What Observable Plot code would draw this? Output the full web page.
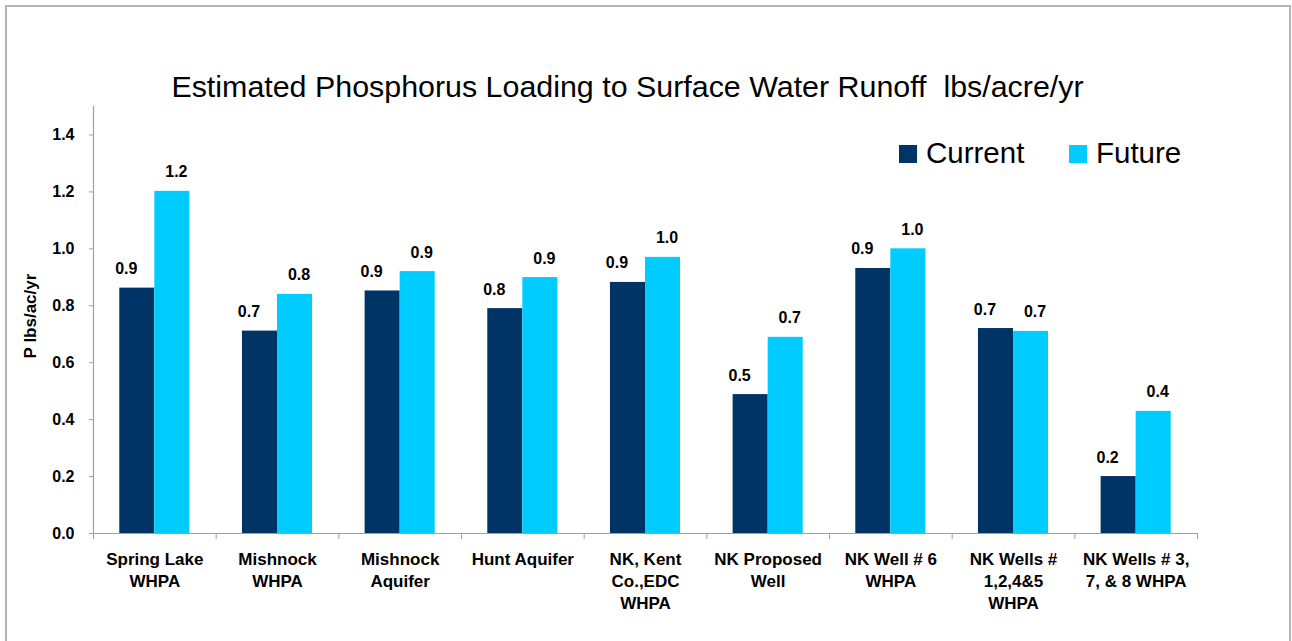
<!DOCTYPE html>
<html>
<head>
<meta charset="utf-8">
<script src="https://cdn.jsdelivr.net/npm/d3@7"></script>
<script src="https://cdn.jsdelivr.net/npm/@observablehq/plot@0.6"></script>
<style>
  html, body { margin: 0; padding: 0; overflow: hidden; background: #fff; }
  body { position: relative; width: 1292px; height: 641px; font-family: "Liberation Sans", Arial, sans-serif; }
  #chart { position: absolute; left: 0; top: 0; }
  #border { position: absolute; left: 5px; top: 5px; width: 1282px; height: 700px; border: 2px solid #b4b4b4; pointer-events: none; z-index: 5; }
  #title { position: absolute; left: 627.5px; top: 71.4px; transform: translateX(-50%); white-space: pre; font-size: 30.4px; line-height: 30.4px; color: #000; z-index: 6; }
  #ylabel { position: absolute; left: 29.6px; top: 315.5px; transform: translate(-50%, -50%) rotate(-90deg); white-space: nowrap; font-size: 17px; line-height: 17px; font-weight: bold; z-index: 6; }
  .lg-sw { position: absolute; width: 18px; height: 18px; top: 145px; z-index: 6; }
  .lg-tx { position: absolute; top: 138.3px; font-size: 29.5px; line-height: 29.5px; white-space: nowrap; z-index: 6; }
</style>
</head>
<body>
<div id="chart"></div>
<div id="border"></div>
<div id="title"></div>
<div id="ylabel"></div>
<script>
// ---- data ----
const titleText = "Estimated Phosphorus Loading to Surface Water Runoff  lbs/acre/yr";
const yLabel = "P lbs/ac/yr";
const categories = [
  "Spring Lake\nWHPA",
  "Mishnock\nWHPA",
  "Mishnock\nAquifer",
  "Hunt Aquifer",
  "NK, Kent\nCo.,EDC\nWHPA",
  "NK Proposed\nWell",
  "NK Well # 6\nWHPA",
  "NK Wells #\n1,2,4&5\nWHPA",
  "NK Wells # 3,\n7, & 8 WHPA"
];
const seriesNames = ["Current", "Future"];
const seriesColors = ["#003366", "#00ccff"];
const currentValues = [0.862, 0.711, 0.852, 0.79, 0.882, 0.488, 0.931, 0.72, 0.2];
const futureValues  = [1.202, 0.84, 0.92, 0.899, 0.97, 0.689, 1.0, 0.71, 0.429];
const yTicks = [0, 0.2, 0.4, 0.6, 0.8, 1.0, 1.2, 1.4];
const yDomain = [0, 1.5];

// ---- table built from the arrays ----
const data = categories.flatMap((c, i) => [
  {category: c, series: seriesNames[0], value: currentValues[i]},
  {category: c, series: seriesNames[1], value: futureValues[i]}
]);
const fmt = d3.format(".1f");

const W = 1292, H = 641;
const mL = 93, mR = 95, mT = 106, mB = 108;
const innerH = H - mT - mB;
const axisGray = "#a0a0a0";

const chart = Plot.plot({
  width: W,
  height: H,
  marginLeft: mL,
  marginRight: mR,
  marginTop: mT,
  marginBottom: mB,
  style: {
    fontFamily: "'Liberation Sans', Arial, sans-serif",
    fontSize: "16px",
    fontWeight: "bold",
    color: "#000",
    background: "transparent",
    overflow: "visible"
  },
  fx: {domain: categories, padding: 0, round: false, label: null},
  x: {domain: seriesNames, paddingInner: 0, paddingOuter: 0.75, round: false, axis: null},
  y: {domain: yDomain},
  color: {domain: seriesNames, range: seriesColors},
  marks: [
    Plot.barY(data, {fx: "category", x: "series", y: "value", fill: "series"}),
    Plot.ruleY([0], {stroke: axisGray, strokeWidth: 1.2}),
    Plot.frame({anchor: "left", stroke: axisGray, insetTop: innerH, insetBottom: -5}),
    Plot.frame({anchor: "right", facetAnchor: "right", stroke: axisGray, insetTop: innerH, insetBottom: -5}),
    Plot.frame({anchor: "left", facetAnchor: "left", stroke: axisGray, strokeWidth: 1.2}),
    Plot.text(data.filter(d => d.series === seriesNames[0]), {
      fx: "category", x: "series", y: "value", text: d => fmt(d.value),
      lineAnchor: "bottom", dy: -14, dx: -11, fontSize: 16, fontWeight: "bold", fill: "#000"
    }),
    Plot.text(data.filter(d => d.series === seriesNames[1]), {
      fx: "category", x: "series", y: "value", text: d => fmt(d.value),
      lineAnchor: "bottom", dy: -14, dx: 4, fontSize: 16, fontWeight: "bold", fill: "#000"
    }),
    Plot.axisY({ticks: yTicks, tickFormat: fmt, tickSize: 4, tickPadding: 15, stroke: axisGray, fill: "#000", fontSize: 16, fontWeight: "bold", label: null}),
    Plot.axisFx({anchor: "bottom", tickSize: 0, tickPadding: 16, fontSize: 17, fontWeight: "bold", lineHeight: 1.3, fill: "#000", label: null})
  ]
});
document.getElementById("chart").appendChild(chart);

document.getElementById("title").textContent = titleText;
document.getElementById("ylabel").textContent = yLabel;

// legend built from series arrays
const legendSwatchX = [899, 1069];
const legendTextX = [926, 1096];
seriesNames.forEach((s, i) => {
  const sw = document.createElement("div");
  sw.className = "lg-sw";
  sw.style.left = legendSwatchX[i] + "px";
  sw.style.background = seriesColors[i];
  document.body.appendChild(sw);
  const tx = document.createElement("div");
  tx.className = "lg-tx";
  tx.style.left = legendTextX[i] + "px";
  tx.textContent = s;
  document.body.appendChild(tx);
});
</script>
</body>
</html>
